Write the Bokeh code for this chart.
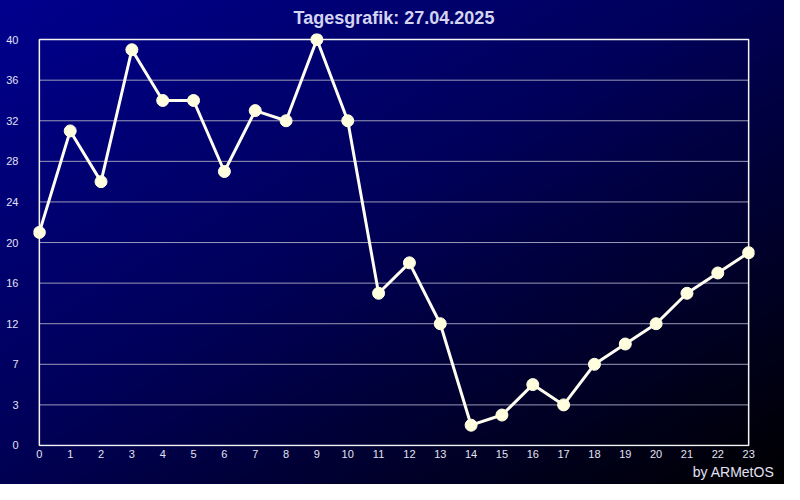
from bokeh.plotting import figure
from bokeh.models import Range1d, FixedTicker, Title
from bokeh.embed import file_html
from bokeh.resources import INLINE

# ---- data ----
hours = [0, 1, 2, 3, 4, 5, 6, 7, 8, 9, 10, 11, 12, 13, 14, 15, 16, 17, 18, 19, 20, 21, 22, 23]
values = [21, 31, 26, 39, 34, 34, 27, 33, 32, 40, 32, 15, 18, 12, 2, 3, 6, 4, 8, 10, 12, 15, 17, 19]
y_ticks = [0, 4, 8, 12, 16, 20, 24, 28, 32, 36, 40]
y_tick_labels = ["0", "3", "7", "12", "16", "20", "24", "28", "32", "36", "40"]
title_text = "Tagesgrafik: 27.04.2025"
credit_text = "by ARMetOS"

FONT = "Liberation Sans"
LINE_COL = "#fffdf0"
DOT_COL = "#ffffe0"
GRID_COL = "#9a9ab8"
TEXT_COL = "#e2e2f4"

x_min, x_max = min(hours), max(hours)
y_min, y_max = y_ticks[0], y_ticks[-1]

p = figure(
    width=784, height=484,
    x_range=Range1d(x_min - 0.19, x_max + 0.19),
    y_range=Range1d(y_min - 0.1, y_max + 0.6),
    output_backend="svg", toolbar_location=None,
    min_border_left=33, min_border_right=30, min_border_top=33, min_border_bottom=38,
)
p.styles = {"background": "linear-gradient(to bottom right, #00008e 0%, #00005a 45%, #000000 100%)"}
p.background_fill_alpha = 0
p.border_fill_alpha = 0
p.outline_line_alpha = 0
p.grid.visible = False

p.title.text = title_text
p.title.align = "center"
p.title.text_font = FONT
p.title.text_font_size = "18px"
p.title.text_font_style = "bold"
p.title.text_color = "#d4d4f0"
p.title.standoff = 11

for ax in (p.xaxis, p.yaxis):
    ax.axis_line_alpha = 0
    ax.major_tick_line_alpha = 0
    ax.minor_tick_line_alpha = 0
    ax.major_tick_out = 0
    ax.major_tick_in = 0
    ax.major_label_text_font = FONT
    ax.major_label_text_font_size = "11px"
    ax.major_label_text_color = TEXT_COL

p.xaxis.ticker = FixedTicker(ticks=hours)
p.xaxis.major_label_standoff = 3
p.yaxis.ticker = FixedTicker(ticks=y_ticks)
p.yaxis.major_label_overrides = {t: l for t, l in zip(y_ticks, y_tick_labels)}
p.yaxis.major_label_standoff = 15

# horizontal grid lines (inside the plot box only)
inner = y_ticks[1:-1]
p.segment(x0=[x_min] * len(inner), x1=[x_max] * len(inner), y0=inner, y1=inner,
          line_color=GRID_COL, line_width=1)

# plot box
p.quad(left=[x_min], right=[x_max], bottom=[y_min], top=[y_max],
       fill_alpha=0, line_color="#f4f4f4", line_width=1.5)

# series
p.line(hours, values, line_color=LINE_COL, line_width=3)
p.scatter(hours, values, size=12, fill_color=DOT_COL, line_color=DOT_COL)

# credit at the bottom right
credit = Title(text=credit_text, align="right", offset=-20, standoff=2,
               text_font=FONT, text_font_size="14px", text_font_style="normal",
               text_color=TEXT_COL)
p.add_layout(credit, "below")

open("out.html", "w").write(file_html(p, INLINE))
